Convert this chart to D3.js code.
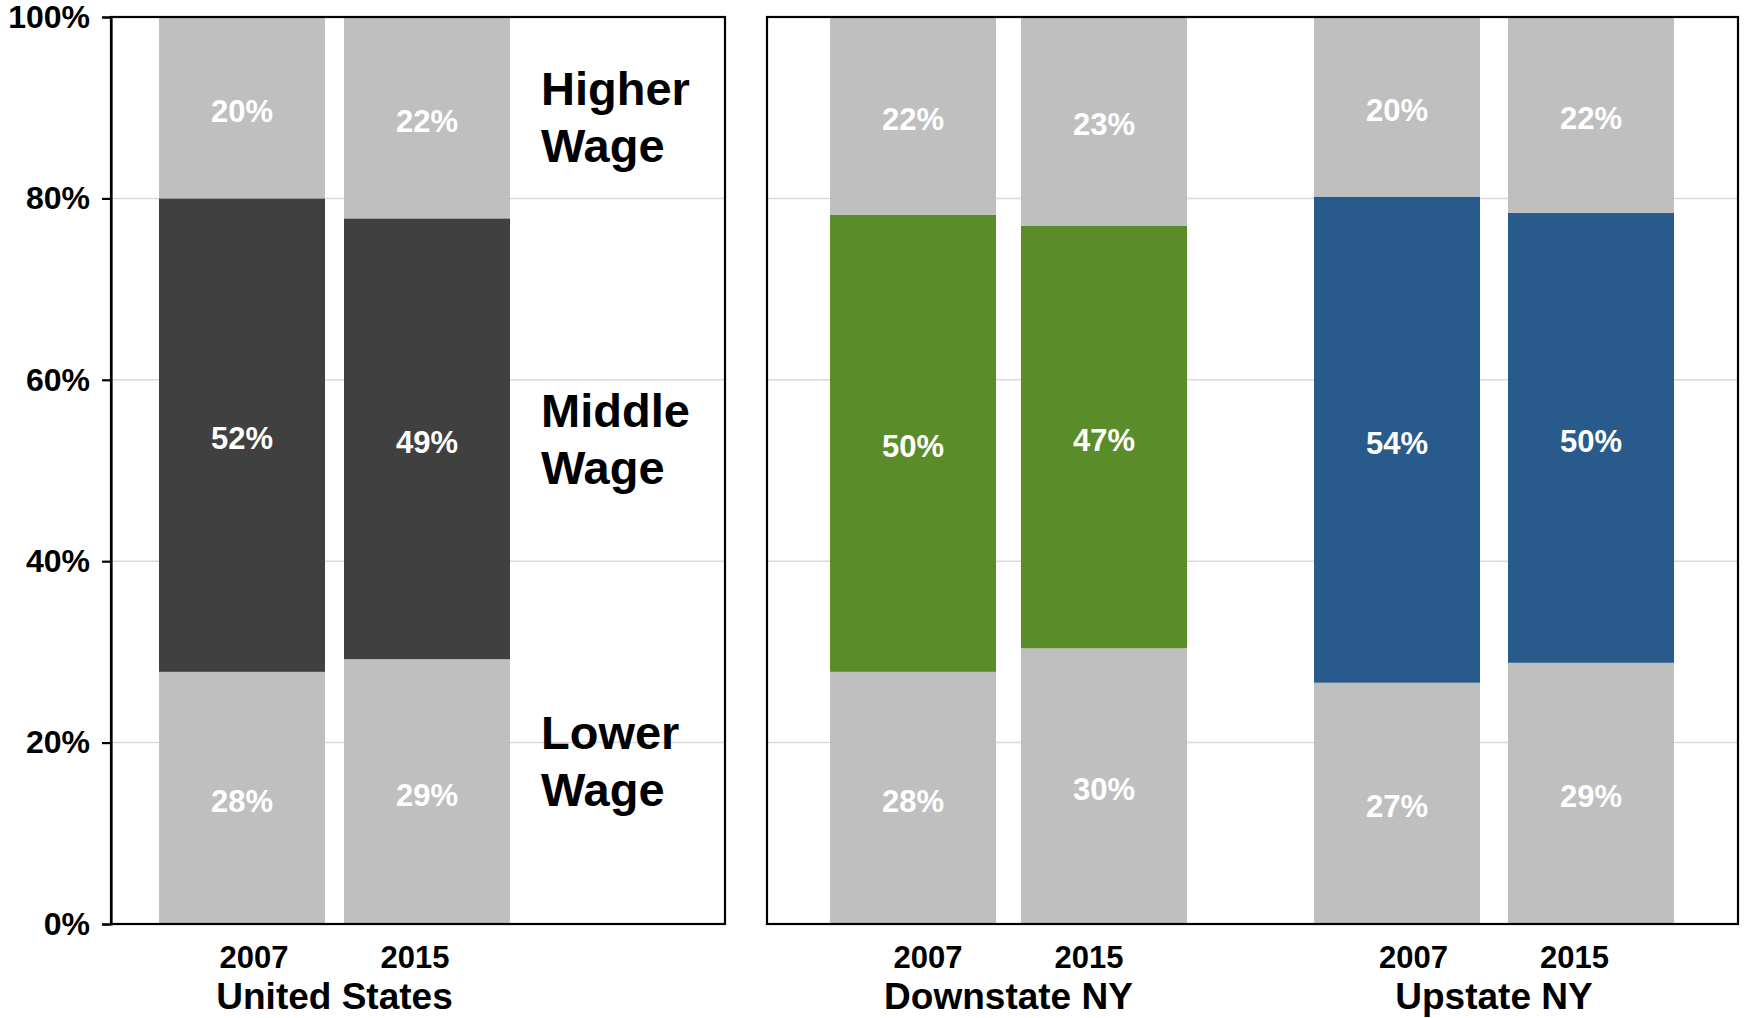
<!DOCTYPE html>
<html>
<head>
<meta charset="utf-8">
<script src="https://cdn.jsdelivr.net/npm/d3@7"></script>
<style>
  html, body { margin: 0; padding: 0; background: #fff; }
  svg { display: block; font-family: "Liberation Sans", Arial, Helvetica, sans-serif; font-weight: bold; }
</style>
</head>
<body>
<svg id="chart" width="1748" height="1018"></svg>
<script>
// ---- data ----
const groups = ["United States", "Downstate NY", "Upstate NY"];
const years = ["2007", "2015"];
const segmentNames = ["Lower Wage", "Middle Wage", "Higher Wage"];
// one value per bar, in order: US 2007, US 2015, Downstate 2007, Downstate 2015, Upstate 2007, Upstate 2015
const lowerVals  = [27.8, 29.2, 27.8, 30.4, 26.6, 28.8];
const middleVals = [52.2, 48.6, 50.4, 46.6, 53.6, 49.6];
const higherVals = [20.0, 22.2, 21.8, 23.0, 19.8, 21.6];
const middleColors = ["#404040", "#5b8c2a", "#285b8c"];
const yTicks = [0, 20, 40, 60, 80, 100];
const legendLines = [["Higher", "Wage"], ["Middle", "Wage"], ["Lower", "Wage"]];
const legendAt = [89, 53.5, 18];

// ---- layout ----
const plotTop = 17, plotBottom = 924;
const panels = [
  { x0: 111, x1: 725 },
  { x0: 767, x1: 1738 }
];
const grayColor = "#bfbfbf";
const barW = 166;

const svg = d3.select("#chart");
const y = d3.scaleLinear().domain([0, 100]).range([plotBottom, plotTop]);

const groupCenter = d3.scaleOrdinal().domain(groups).range([334.5, 1008.5, 1494]);
const groupGap = d3.scaleOrdinal().domain(groups).range([19, 25, 28]);
function innerScale(g) {
  const gap = groupGap(g);
  const half = barW + gap / 2;
  return d3.scaleBand().domain(years).range([-half, half]).paddingInner(gap / (barW + gap)).paddingOuter(0);
}
const yearLabelX = d3.scalePoint().domain(years).range([-80.5, 80.5]);

// gridlines
panels.forEach(p => {
  svg.append("g").selectAll("line").data(yTicks.filter(t => t > 0 && t < 100)).join("line")
    .attr("x1", p.x0).attr("x2", p.x1)
    .attr("y1", d => y(d)).attr("y2", d => y(d))
    .attr("stroke", "#d9d9d9").attr("stroke-width", 1.5);
});

// bars
const bars = [];
groups.forEach((g, gi) => {
  const xs = innerScale(g);
  years.forEach((yr, yi) => {
    const i = gi * 2 + yi;
    const vals = [lowerVals[i], middleVals[i], higherVals[i]];
    const cols = [grayColor, middleColors[gi], grayColor];
    let cum = 0;
    vals.forEach((v, si) => {
      bars.push({ g, yr, seg: segmentNames[si], y0: cum, y1: cum + v, v, color: cols[si],
                  x: groupCenter(g) + xs(yr), w: xs.bandwidth() });
      cum += v;
    });
  });
});

svg.append("g").selectAll("rect").data(bars).join("rect")
  .attr("x", d => d.x).attr("width", d => d.w)
  .attr("y", d => y(Math.min(d.y1, 100))).attr("height", d => y(d.y0) - y(Math.min(d.y1, 100)))
  .attr("fill", d => d.color);

svg.append("g").selectAll("text").data(bars).join("text")
  .attr("x", d => d.x + d.w / 2)
  .attr("y", d => y((d.y0 + d.y1) / 2))
  .attr("dy", "0.45em")
  .attr("text-anchor", "middle")
  .attr("fill", "#ffffff")
  .attr("font-size", 31)
  .text(d => Math.round(d.v) + "%");

// panel frames
panels.forEach(p => {
  svg.append("rect")
    .attr("x", p.x0).attr("y", plotTop)
    .attr("width", p.x1 - p.x0).attr("height", plotBottom - plotTop)
    .attr("fill", "none").attr("stroke", "#000").attr("stroke-width", 2.2);
});

// y axis
const yAxis = d3.axisLeft(y).tickValues(yTicks).tickFormat(d => d + "%").tickSize(9).tickPadding(12);
const ag = svg.append("g").attr("transform", `translate(${panels[0].x0},0)`).call(yAxis);
ag.select(".domain").attr("stroke", "#000").attr("stroke-width", 2.2);
ag.selectAll(".tick line").attr("stroke", "#000").attr("stroke-width", 2.2);
ag.selectAll(".tick text").attr("fill", "#000").attr("font-size", 32)
  .attr("font-family", "Liberation Sans, Arial, sans-serif").attr("font-weight", "bold");

// year labels
groups.forEach(g => {
  svg.append("g").selectAll("text").data(years).join("text")
    .attr("x", d => groupCenter(g) + yearLabelX(d))
    .attr("y", 968)
    .attr("text-anchor", "middle")
    .attr("font-size", 31)
    .attr("fill", "#000")
    .text(d => d);
});

// group labels
svg.append("g").selectAll("text").data(groups).join("text")
  .attr("x", d => groupCenter(d))
  .attr("y", 1009)
  .attr("text-anchor", "middle")
  .attr("font-size", 37)
  .attr("fill", "#000")
  .text(d => d);

// legend labels
const lg = svg.append("g");
legendLines.forEach((lines, i) => {
  const t = lg.append("text")
    .attr("x", 541)
    .attr("y", y(legendAt[i]))
    .attr("font-size", 47)
    .attr("fill", "#000");
  lines.forEach((ln, li) => {
    t.append("tspan").attr("x", 541).attr("dy", li === 0 ? "-0.25em" : "1.22em").text(ln);
  });
});
</script>
</body>
</html>
